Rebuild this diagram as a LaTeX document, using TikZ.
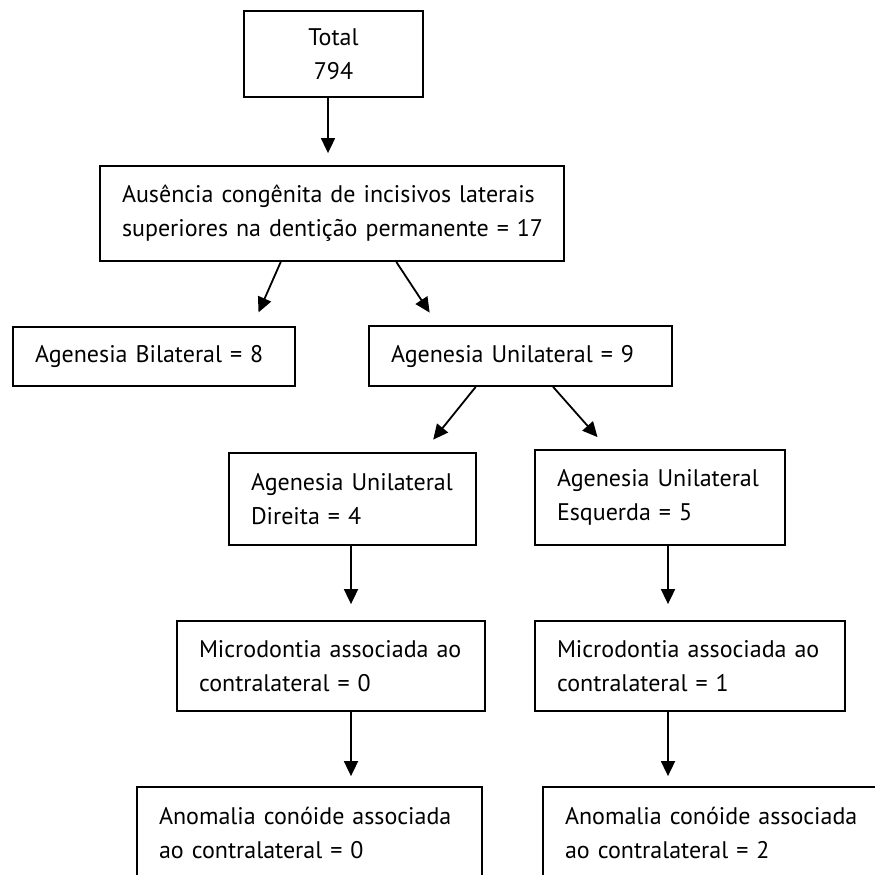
\documentclass[tikz,border=0pt]{standalone}
\usepackage{fontspec}
\setmainfont{PT Sans}
\usetikzlibrary{arrows.meta,calc}
\tikzset{
  box/.style={draw, line width=1.8pt, inner xsep=22pt, inner ysep=0pt, align=left,
              font=\fontsize{24}{34}\selectfont},
  arr/.style={line width=1.8pt, -{Triangle[length=15pt,width=14pt]}}
}
\newcommand{\bx}[6]{% name, x1, y1, x2, y2, text
  \node[box, text width={#4-#2-44}, minimum width={#4-#2}, minimum height={#5-#3}] (#1) at ({(#2+#4)/2},{(#3+#5)/2}) {#6};}
\begin{document}
\begin{tikzpicture}[x=1pt,y=-1pt]
\useasboundingbox (0,0) rectangle (875,875);
\clip (0,0) rectangle (875,875);
\node[box, align=center, minimum width=179, minimum height=86, inner xsep=0pt] (total) at (333.5,54) {Total\\794};
\bx{aus}{100}{166}{564}{261}{\mbox{Ausência congênita de incisivos laterais}\\\mbox{superiores na dentição permanente = 17}}
\bx{bil}{13}{327}{295}{386}{\mbox{Agenesia Bilateral = 8}}
\bx{uni}{369}{326}{672}{386}{\mbox{Agenesia Unilateral = 9}}
\bx{dir}{229}{453}{476}{545}{\mbox{Agenesia Unilateral}\\\mbox{Direita = 4}}
\bx{esq}{535}{450}{785}{545}{\mbox{Agenesia Unilateral}\\\mbox{Esquerda = 5}}
\bx{micL}{177}{621}{485}{711}{\mbox{Microdontia associada ao}\\\mbox{contralateral = 0}}
\bx{micR}{535}{621}{845}{711}{\mbox{Microdontia associada ao}\\\mbox{contralateral = 1}}
\bx{anoL}{137}{787}{482}{879}{\mbox{Anomalia conóide associada}\\\mbox{ao contralateral = 0}}
\bx{anoR}{543}{787}{900}{879}{\mbox{Anomalia conóide associada}\\\mbox{ao contralateral = 2}}
\coordinate (cT) at (328,0);
\coordinate (cL) at (351,0);
\coordinate (cR) at (668,0);
\draw[arr, shorten >=12pt] (total.south -| cT) -- (aus.north -| cT);
\draw[arr, shorten >=15pt] ($(aus.south west)!0.390!(aus.south east)$) -- ($(bil.north west)!0.847!(bil.north east)$);
\draw[arr, shorten >=15pt] ($(aus.south west)!0.638!(aus.south east)$) -- ($(uni.north west)!0.229!(uni.north east)$);
\draw[arr, shorten >=16pt] ($(uni.south west)!0.353!(uni.south east)$) -- ($(dir.north west)!0.784!(dir.north east)$);
\draw[arr, shorten >=16pt] ($(uni.south west)!0.607!(uni.south east)$) -- ($(esq.north west)!0.294!(esq.north east)$);
\draw[arr, shorten >=16pt] (dir.south -| cL) -- (micL.north -| cL);
\draw[arr, shorten >=16pt] (esq.south -| cR) -- (micR.north -| cR);
\draw[arr, shorten >=10pt] (micL.south -| cL) -- (anoL.north -| cL);
\draw[arr, shorten >=10pt] (micR.south -| cR) -- (anoR.north -| cR);
\end{tikzpicture}
\end{document}
